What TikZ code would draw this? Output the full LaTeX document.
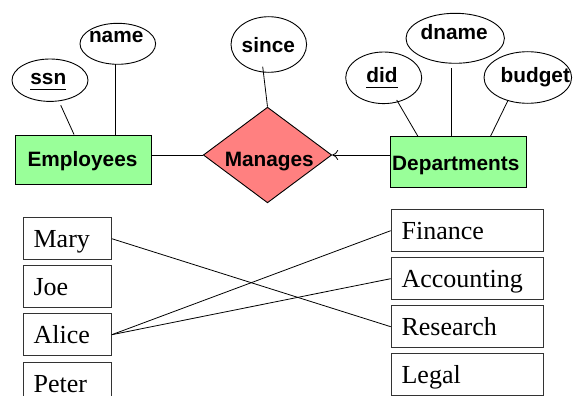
\documentclass[tikz,border=0pt]{standalone}
\usepackage{fontspec}
\setmainfont{Liberation Serif}
\setsansfont{Liberation Sans}
\usetikzlibrary{shapes.geometric,arrows.meta,calc}
\newcommand\myul[1]{\setbox0\hbox{#1}\rlap{\rule[-5.7pt]{\wd0}{1.4pt}}\box0}
\definecolor{entgreen}{HTML}{99FF99}
\definecolor{relred}{HTML}{FF8080}
\begin{document}
\begin{tikzpicture}[x=1pt,y=-1pt,
  attr/.style={draw, ellipse, inner sep=0pt, line width=0.9pt},
  lbl/.style={font=\sffamily\bfseries\fontsize{20.8}{24}\selectfont, inner sep=0pt, anchor=base},
  ent/.style={draw, fill=entgreen, line width=0.9pt, inner sep=0pt},
  rel/.style={draw, diamond, fill=relred, inner sep=0pt, line width=0.9pt},
  lnk/.style={line width=0.8pt},
  inst/.style={draw=black!80, line width=0.8pt, minimum height=42pt, inner xsep=10.5pt, inner ysep=0pt,
    text height=20pt, text depth=2pt, align=left, anchor=north west, font=\fontsize{26}{30}\selectfont},
  instl/.style={inst, text width=67.3pt},
  instr/.style={inst, text width=131pt}]
\useasboundingbox (0,0) rectangle (573,396);
\clip (0,0) rectangle (573,396);

% entities and relationship
\node[ent, minimum width=136pt, minimum height=49pt] (emp) at (83,159.5) {};
\node[lbl] (empt) at (82.5,166.7) {Employees};
\node[ent, minimum width=136pt, minimum height=50.3pt] (dept) at (458,161.8) {};
\node[lbl] (deptt) at (455.8,170) {Departments};
\node[rel, minimum width=128.4pt, minimum height=95.7pt] (mg) at (267.5,155) {};
\node[lbl] (mgt) at (269.3,166.7) {Manages};

% attributes
\node[attr, minimum width=76pt, minimum height=42.4pt] (ssn) at (50,80.2) {};
\node[lbl] (ssnt) at (48.3,84.3) {\myul{ssn}};
\node[attr, minimum width=75.6pt, minimum height=41pt] (name) at (117.8,43.8) {};
\node[lbl] (namet) at (116.2,42.3) {name};
\node[attr, minimum width=75.6pt, minimum height=55.6pt] (since) at (268.8,44.5) {};
\node[lbl] (sincet) at (268.3,52.7) {since};
\node[attr, minimum width=76pt, minimum height=51.6pt] (did) at (383.7,77.8) {};
\node[lbl] (didt) at (382,82.7) {\myul{did}};
\node[attr, minimum width=98.4pt, minimum height=50pt] (dname) at (455.2,38.3) {};
\node[lbl] (dnamet) at (454.2,40) {dname};
\node[attr, minimum width=87.6pt, minimum height=51.6pt] (budget) at (527.8,77.5) {};
\node[lbl] (budgett) at (535.3,82.5) {budget};

% attribute links
\coordinate (namefoot) at ($(name)+(-2.5,20.5)$);
\coordinate (dnamefoot) at ($(dname)+(-3.5,30)$);
\draw[lnk] ($(ssn)+(10.7,25)$) -- ($(emp.north west)+(59.5,0)$);
\draw[lnk] (namefoot) -- (namefoot |- emp.north);
\draw[lnk] ($(since)+(-6.1,22.2)$) -- (mg.north);
\draw[lnk] ($(did)+(13,22.2)$) -- ($(dept.north west)+(28.3,0)$);
\draw[lnk] (dnamefoot) -- (dnamefoot |- dept.north);
\draw[lnk] ($(budget)+(-20.1,23.5)$) -- ($(dept.north west)+(101,0)$);

% relationship links
\draw[lnk] (emp.east |- mg.west) -- (mg.west);
\draw[lnk, -{To[length=6pt,width=10pt]}] (dept.west |- mg.east) -- (mg.east);

% instances
\node[instl] (mary) at (22.7,217.3) {Mary};
\node[instl] (joe) at (22.7,265.3) {Joe};
\node[instl] (alice) at (22.7,313.3) {Alice};
\node[instl] (peter) at (22.7,361.7) {Peter};
\node[instr] (finance) at (390.7,209.3) {Finance};
\node[instr] (accounting) at (390.7,257.3) {Accounting};
\node[instr] (research) at (390.7,305.3) {Research};
\node[instr] (legal) at (390.7,353.3) {Legal};

\draw[lnk] (mary.east) -- (research.west);
\draw[lnk] (alice.east) -- (finance.west);
\draw[lnk] (alice.east) -- (accounting.west);
\end{tikzpicture}
\end{document}
